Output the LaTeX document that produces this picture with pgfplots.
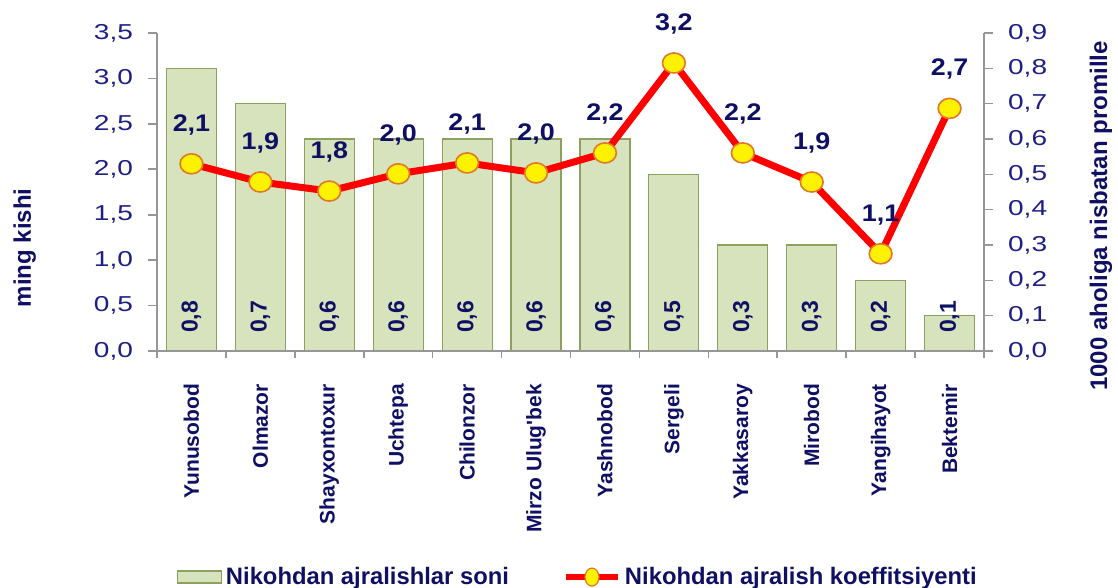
\documentclass[border=0pt]{standalone}
\usepackage{fontspec}
\setmainfont{Liberation Sans}
\usepackage{graphicx}
\usepackage{pgfplots}
\pgfplotsset{compat=1.18}
\usepackage{pgfplotstable}

\definecolor{txt}{RGB}{30,30,135}
\definecolor{lab}{RGB}{15,15,100}
\definecolor{barfill}{RGB}{214,227,188}
\definecolor{baredge}{RGB}{140,160,95}
\definecolor{axisgray}{RGB}{150,150,150}
\definecolor{mkedge}{RGB}{225,120,40}

% divorces, on the right axis
\pgfplotstableread{
x y lab
0 0.8 0,8
1 0.7 0,7
2 0.6 0,6
3 0.6 0,6
4 0.6 0,6
5 0.6 0,6
6 0.6 0,6
7 0.5 0,5
8 0.3 0,3
9 0.3 0,3
10 0.2 0,2
11 0.1 0,1
}\bars

% coefficient, on the left axis
\pgfplotstableread{
x y lab
0 2.06 2,1
1 1.86 1,9
2 1.76 1,8
3 1.95 2,0
4 2.07 2,1
5 1.96 2,0
6 2.18 2,2
7 3.17 3,2
8 2.18 2,2
9 1.86 1,9
10 1.07 1,1
11 2.67 2,7
}\coef

\pgfplotsset{
  base/.style={
    scale only axis, width=413.5pt, height=159pt,
    at={(78.5pt,118.5pt)}, anchor=south west,
    xmin=-0.5, xmax=11.5, clip=false,
    axis line style={axisgray, line width=0.8pt},
    tick style={axisgray, line width=0.8pt},
    tick align=outside, major tick length=4.5pt,
    yticklabel style={font=\fontsize{10.8}{12}\selectfont, text=txt},
    yticklabel={\scalebox{1.3}[1]{\pgfmathprintnumber{\tick}}},
    /pgf/number format/.cd, fixed, fixed zerofill, precision=1, use comma, assume math mode=true,
  }
}

\begin{document}
\begin{tikzpicture}
\useasboundingbox (0,0) rectangle (559pt,294pt);

\begin{axis}[base,
    axis x line=none, axis y line*=right,
    ymin=0, ymax=0.9,
    ytick={0,0.1,0.2,0.3,0.4,0.5,0.6,0.7,0.8,0.9},
    yticklabel style={xshift=4pt},
    ylabel={1000 aholiga nisbatan promille},
    ylabel style={at={(rel axis cs:1.1415,0.4245)}, anchor=center,
      font=\bfseries\fontsize{12}{14}\selectfont, text=lab},
]
\addplot[ybar, bar width=25pt, bar shift=0pt, fill=barfill, draw=baredge, line width=0.6pt]
  table[x=x, y=y] {\bars};
\addplot[forget plot, draw=none, mark=none, nodes near coords, point meta=explicit symbolic,
  nodes near coords style={rotate=90, anchor=west, inner sep=0pt,
    font=\bfseries\fontsize{11.5}{13}\selectfont, text=lab}]
  table[x=x, y expr=0.05, meta=lab] {\bars};
\end{axis}

\begin{axis}[base,
    axis x line*=bottom, axis y line*=left,
    ymin=0, ymax=3.5,
    ytick={0,0.5,1,1.5,2,2.5,3,3.5},
    yticklabel style={xshift=-4pt},
    xtick={0,1,2,3,4,5,6,7,8,9,10,11},
    xticklabels={Yunusobod,Olmazor,Shayxontoxur,Uchtepa,Chilonzor,Mirzo Ulug\textquotesingle{}bek,Yashnobod,Sergeli,Yakkasaroy,Mirobod,Yangihayot,Bektemir},
    major x tick style={draw=none},
    minor xtick={-0.5,0.5,1.5,2.5,3.5,4.5,5.5,6.5,7.5,8.5,9.5,10.5,11.5},
    minor tick length=3.5pt,
    xticklabel style={yshift=-8.5pt, rotate=90, anchor=east,
      font=\bfseries\fontsize{10.5}{12}\selectfont, text=lab},
    ylabel={ming kishi},
    ylabel style={at={(rel axis cs:-0.16,0.324)}, anchor=center,
      font=\bfseries\fontsize{12}{14}\selectfont, text=lab},
    legend columns=2,
    legend style={draw=none, fill=none, at={(0.51,-0.711)}, anchor=center,
      font=\bfseries\fontsize{11.9}{13}\selectfont, text=lab, inner sep=0pt,
      /tikz/every even column/.append style={column sep=25pt}},
    legend cell align=left,
]
\addlegendimage{legend image code/.code={\draw[fill=barfill, draw=baredge, line width=0.6pt] (0pt,-3pt) rectangle (22pt,3pt);}}
\addlegendentry{Nikohdan ajralishlar soni}
\addplot[red, line width=3.5pt, mark=*, mark size=5.7pt,
  mark options={fill=yellow, draw=mkedge, line width=0.8pt, yscale=0.88, solid},
  nodes near coords={\scalebox{1.12}[1]{\pgfplotspointmeta}}, point meta=explicit symbolic,
  nodes near coords style={anchor=south, inner sep=0pt, yshift=14pt,
    font=\bfseries\fontsize{12}{14}\selectfont, text=lab},
  legend image code/.code={\draw[red, line width=3pt] (0pt,0pt) -- (26pt,0pt);
    \draw[fill=yellow, draw=mkedge, line width=0.6pt] (13pt,0pt) ellipse (3.5pt and 4.5pt);}]
  table[x=x, y=y, meta=lab] {\coef};
\addlegendentry{Nikohdan ajralish koeffitsiyenti}
\end{axis}
\end{tikzpicture}
\end{document}
